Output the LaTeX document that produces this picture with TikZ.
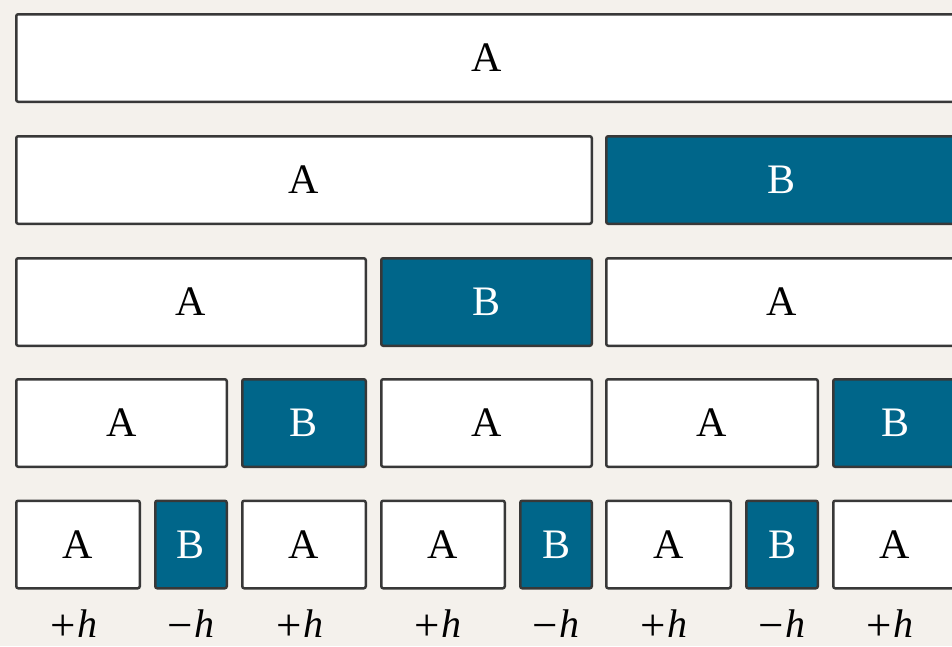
\documentclass[tikz,border=0pt]{standalone}
\usepackage{fontspec}
\setmainfont{Liberation Serif}
\definecolor{bgc}{HTML}{F4F1EC}
\definecolor{bluec}{HTML}{00668A}
\definecolor{linec}{HTML}{383838}
\tikzset{
  cell/.style={draw=linec, line width=2.5pt, rounded corners=2pt, minimum height=87.5pt, inner sep=0pt, font=\fontsize{42}{44}\selectfont},
  acell/.style={cell, fill=white, text=black},
  bcell/.style={cell, fill=bluec, text=white},
  lab/.style={inner sep=0pt, font=\fontsize{40}{42}\selectfont}
}
\newcommand\ph{\raisebox{-3pt}{\fontsize{45}{45}\selectfont +}\kern2pt\textit{h}}
\newcommand\mh{\raisebox{-3pt}{\fontsize{45}{45}\selectfont −}\kern2pt\textit{h}}
\begin{document}
\begin{tikzpicture}[x=1pt,y=-1pt]
\useasboundingbox (0,0) rectangle (952,646);
\clip (0,0) rectangle (952,646);
\fill[bgc] (0,0) rectangle (952,646);
% row 1
\node[acell, minimum width=940.5pt] (r1a) at (486.5,58) {A};
% row 2
\node[acell, minimum width=575.5pt] (r2a) at (304,180) {A};
\node[bcell, minimum width=350.5pt] (r2b) at (781.5,180) {B};
% row 3
\node[acell, minimum width=349.5pt] (r3a) at (191,302) {A};
\node[bcell, minimum width=210.5pt] (r3b) at (486.5,302) {B};
\node[acell, minimum width=350.5pt] (r3c) at (781.5,302) {A};
% row 4
\node[acell, minimum width=210.5pt] (r4a) at (121.5,423) {A};
\node[bcell, minimum width=123.5pt] (r4b) at (304,423) {B};
\node[acell, minimum width=210.5pt] (r4c) at (486.5,423) {A};
\node[acell, minimum width=211.5pt] (r4d) at (712,423) {A};
\node[bcell, minimum width=123.5pt] (r4e) at (895,423) {B};
% row 5
\node[acell, minimum width=123.5pt] (r5a) at (78,544.5) {A};
\node[bcell, minimum width=71.5pt] (r5b) at (191,544.5) {B};
\node[acell, minimum width=123.5pt] (r5c) at (304,544.5) {A};
\node[acell, minimum width=123.5pt] (r5d) at (443,544.5) {A};
\node[bcell, minimum width=71.5pt] (r5e) at (556,544.5) {B};
\node[acell, minimum width=124.5pt] (r5f) at (668.5,544.5) {A};
\node[bcell, minimum width=71.5pt] (r5g) at (782,544.5) {B};
\node[acell, minimum width=123.5pt] (r5h) at (895,544.5) {A};
% labels
\node[lab, anchor=base] (l1) at (74,637) {\ph};
\node[lab, anchor=base] (l2) at (191,637) {\mh};
\node[lab, anchor=base] (l3) at (300,637) {\ph};
\node[lab, anchor=base] (l4) at (438,637) {\ph};
\node[lab, anchor=base] (l5) at (556,637) {\mh};
\node[lab, anchor=base] (l6) at (664,637) {\ph};
\node[lab, anchor=base] (l7) at (782,637) {\mh};
\node[lab, anchor=base] (l8) at (890,637) {\ph};
\end{tikzpicture}
\end{document}
